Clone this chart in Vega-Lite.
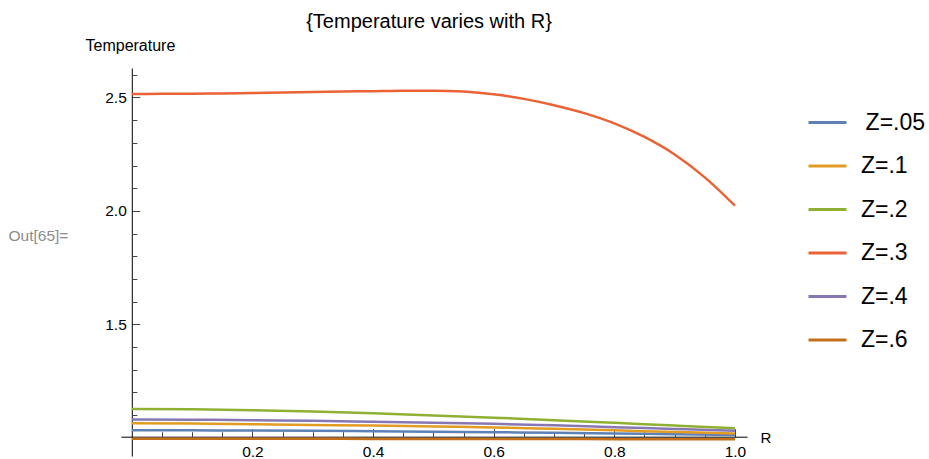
{
  "$schema": "https://vega.github.io/schema/vega-lite/v6.json",
  "width": 626,
  "height": 388,
  "autosize": {"type": "none"},
  "padding": {"left": 121, "top": 68, "right": 182, "bottom": 3},
  "background": "white",
  "title": {"text": "{Temperature varies with R}", "font": "Liberation Sans", "fontSize": 20, "fontWeight": "normal", "color": "#000000", "anchor": "middle", "frame": "group", "baseline": "alphabetic", "offset": -10, "dx": -5},
  "config": {
    "view": {"stroke": null},
    "font": "Liberation Sans",
    "axis": {"grid": false, "domainColor": "#000000", "tickColor": "#444444", "labelColor": "#000000", "labelFont": "Liberation Sans", "titleFont": "Liberation Sans", "titleFontWeight": "normal", "titleColor": "#000000"}
  },
  "data": {"values": [
    {"R": 0.0, "T": 1.033, "Z": "Z=.05"}, {"R": 0.1, "T": 1.033, "Z": "Z=.05"}, {"R": 0.2, "T": 1.032, "Z": "Z=.05"}, {"R": 0.3, "T": 1.031, "Z": "Z=.05"}, {"R": 0.4, "T": 1.029, "Z": "Z=.05"}, {"R": 0.5, "T": 1.027, "Z": "Z=.05"}, {"R": 0.6, "T": 1.025, "Z": "Z=.05"}, {"R": 0.7, "T": 1.022, "Z": "Z=.05"}, {"R": 0.8, "T": 1.019, "Z": "Z=.05"}, {"R": 0.9, "T": 1.016, "Z": "Z=.05"}, {"R": 1.0, "T": 1.013, "Z": "Z=.05"},
    {"R": 0.0, "T": 1.064, "Z": "Z=.1"}, {"R": 0.1, "T": 1.063, "Z": "Z=.1"}, {"R": 0.2, "T": 1.060, "Z": "Z=.1"}, {"R": 0.3, "T": 1.057, "Z": "Z=.1"}, {"R": 0.4, "T": 1.054, "Z": "Z=.1"}, {"R": 0.5, "T": 1.050, "Z": "Z=.1"}, {"R": 0.6, "T": 1.046, "Z": "Z=.1"}, {"R": 0.7, "T": 1.040, "Z": "Z=.1"}, {"R": 0.8, "T": 1.033, "Z": "Z=.1"}, {"R": 0.9, "T": 1.026, "Z": "Z=.1"}, {"R": 1.0, "T": 1.019, "Z": "Z=.1"},
    {"R": 0.0, "T": 1.127, "Z": "Z=.2"}, {"R": 0.1, "T": 1.126, "Z": "Z=.2"}, {"R": 0.2, "T": 1.122, "Z": "Z=.2"}, {"R": 0.3, "T": 1.116, "Z": "Z=.2"}, {"R": 0.4, "T": 1.108, "Z": "Z=.2"}, {"R": 0.5, "T": 1.099, "Z": "Z=.2"}, {"R": 0.6, "T": 1.089, "Z": "Z=.2"}, {"R": 0.7, "T": 1.078, "Z": "Z=.2"}, {"R": 0.8, "T": 1.066, "Z": "Z=.2"}, {"R": 0.9, "T": 1.054, "Z": "Z=.2"}, {"R": 1.0, "T": 1.042, "Z": "Z=.2"},
    {"R": 0.0, "T": 2.515, "Z": "Z=.3"}, {"R": 0.05, "T": 2.516, "Z": "Z=.3"}, {"R": 0.1, "T": 2.517, "Z": "Z=.3"}, {"R": 0.15, "T": 2.518, "Z": "Z=.3"}, {"R": 0.2, "T": 2.520, "Z": "Z=.3"}, {"R": 0.25, "T": 2.522, "Z": "Z=.3"}, {"R": 0.3, "T": 2.524, "Z": "Z=.3"}, {"R": 0.35, "T": 2.526, "Z": "Z=.3"}, {"R": 0.4, "T": 2.528, "Z": "Z=.3"}, {"R": 0.45, "T": 2.530, "Z": "Z=.3"}, {"R": 0.5, "T": 2.530, "Z": "Z=.3"}, {"R": 0.55, "T": 2.526, "Z": "Z=.3"}, {"R": 0.6, "T": 2.514, "Z": "Z=.3"}, {"R": 0.65, "T": 2.494, "Z": "Z=.3"}, {"R": 0.7, "T": 2.466, "Z": "Z=.3"}, {"R": 0.75, "T": 2.431, "Z": "Z=.3"}, {"R": 0.8, "T": 2.386, "Z": "Z=.3"}, {"R": 0.85, "T": 2.326, "Z": "Z=.3"}, {"R": 0.9, "T": 2.249, "Z": "Z=.3"}, {"R": 0.95, "T": 2.148, "Z": "Z=.3"}, {"R": 1.0, "T": 2.023, "Z": "Z=.3"},
    {"R": 0.0, "T": 1.081, "Z": "Z=.4"}, {"R": 0.1, "T": 1.080, "Z": "Z=.4"}, {"R": 0.2, "T": 1.078, "Z": "Z=.4"}, {"R": 0.3, "T": 1.075, "Z": "Z=.4"}, {"R": 0.4, "T": 1.071, "Z": "Z=.4"}, {"R": 0.5, "T": 1.067, "Z": "Z=.4"}, {"R": 0.6, "T": 1.062, "Z": "Z=.4"}, {"R": 0.7, "T": 1.055, "Z": "Z=.4"}, {"R": 0.8, "T": 1.047, "Z": "Z=.4"}, {"R": 0.9, "T": 1.039, "Z": "Z=.4"}, {"R": 1.0, "T": 1.031, "Z": "Z=.4"},
    {"R": 0.0, "T": 0.996, "Z": "Z=.6"}, {"R": 0.1, "T": 0.996, "Z": "Z=.6"}, {"R": 0.2, "T": 0.996, "Z": "Z=.6"}, {"R": 0.3, "T": 0.996, "Z": "Z=.6"}, {"R": 0.4, "T": 0.995, "Z": "Z=.6"}, {"R": 0.5, "T": 0.995, "Z": "Z=.6"}, {"R": 0.6, "T": 0.995, "Z": "Z=.6"}, {"R": 0.7, "T": 0.995, "Z": "Z=.6"}, {"R": 0.8, "T": 0.994, "Z": "Z=.6"}, {"R": 0.9, "T": 0.994, "Z": "Z=.6"}, {"R": 1.0, "T": 0.994, "Z": "Z=.6"}
  ]},
  "layer": [
    {
      "mark": {"type": "line", "strokeWidth": 2.5, "clip": true, "interpolate": "monotone"},
      "encoding": {
        "x": {"field": "R", "type": "quantitative", "scale": {"domain": [-0.018, 1.02], "nice": false, "zero": false},
          "axis": {"orient": "bottom", "offset": -19.3, "values": [0.2, 0.4, 0.6, 0.8, 1.0], "format": ".1f", "tickSize": -8, "labelFontSize": 15.5, "labelPadding": 16, "labelFlush": false,
            "title": "R", "titleFontSize": 15, "titleX": 639, "titleY": 1, "titleAlign": "left", "titleBaseline": "middle", "titleAnchor": null}},
        "y": {"field": "T", "type": "quantitative", "scale": {"domain": [0.92, 2.63], "nice": false, "zero": false},
          "axis": {"orient": "left", "offset": -10.8, "values": [1.5, 2.0, 2.5], "format": ".1f", "tickSize": -8, "labelFontSize": 15.5, "labelPadding": 13.5, "labelFlush": false,
            "title": "Temperature", "titleFontSize": 16, "titleAngle": 0, "titleX": -46.8, "titleY": -17.3, "titleAlign": "left", "titleBaseline": "alphabetic", "titleAnchor": null}},
        "color": {"field": "Z", "type": "nominal",
          "scale": {"domain": ["Z=.05", "Z=.1", "Z=.2", "Z=.3", "Z=.4", "Z=.6"], "range": ["#5E81B5", "#E19C24", "#8FB032", "#EB6235", "#8778B3", "#C56E1A"]},
          "legend": {"orient": "none", "legendX": 686, "legendY": 34, "title": null, "symbolType": "stroke", "symbolSize": 1444, "symbolStrokeWidth": 3, "labelFont": "Liberation Sans", "labelFontSize": 23, "labelColor": "#000000", "labelOffset": 13, "rowPadding": 10.5, "padding": 0, "labelLimit": 300,
            "labelExpr": "datum.label == 'Z=.05' ? '\u200b\u2009Z=.05' : datum.label"}}
      }
    },
    {
      "mark": {"type": "line", "opacity": 0},
      "encoding": {
        "x": {"field": "R", "type": "quantitative", "scale": {"domain": [-0.018, 1.02], "nice": false, "zero": false},
          "axis": {"orient": "bottom", "offset": -19.3, "values": [0.05, 0.1, 0.15, 0.25, 0.3, 0.35, 0.45, 0.5, 0.55, 0.65, 0.7, 0.75, 0.85, 0.9, 0.95], "labels": false, "domain": false, "tickSize": -5, "title": null}},
        "y": {"field": "T", "type": "quantitative", "scale": {"domain": [0.92, 2.63], "nice": false, "zero": false},
          "axis": {"orient": "left", "offset": -10.8, "values": [1.1, 1.2, 1.3, 1.4, 1.6, 1.7, 1.8, 1.9, 2.1, 2.2, 2.3, 2.4, 2.6], "labels": false, "domain": false, "tickSize": -5,
            "title": "Out[65]=", "titleFontSize": 15.5, "titleColor": "#8c8c8c", "titleAngle": 0, "titleX": -123.8, "titleY": 172.7, "titleAlign": "left", "titleBaseline": "alphabetic", "titleAnchor": null}},
        "detail": {"field": "Z", "type": "nominal"}
      }
    }
  ],
  "resolve": {"axis": {"x": "independent", "y": "independent"}}
}
